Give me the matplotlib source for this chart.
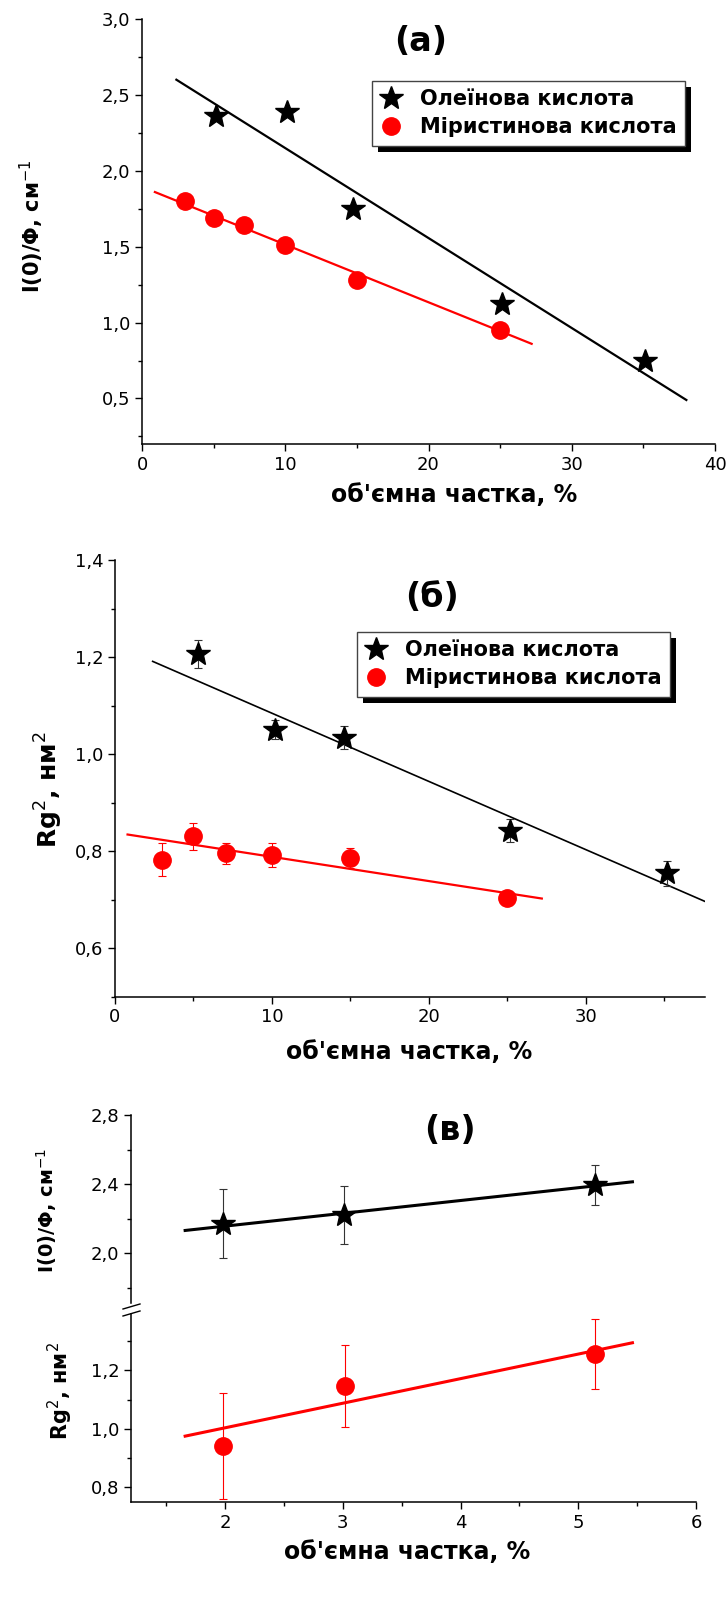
import matplotlib
matplotlib.use("Agg")
import matplotlib.pyplot as plt
from matplotlib.lines import Line2D
from matplotlib.patches import Rectangle
from matplotlib.ticker import FuncFormatter, MultipleLocator

plt.rcParams["font.family"] = ["DejaVu Sans"]

# %% data
labels = ["Олеїнова кислота", "Міристинова кислота"]

# (a) I(0)/Phi vs volume fraction
a_ole_x = [5.2, 10.1, 14.7, 25.1, 35.1]
a_ole_y = [2.36, 2.385, 1.75, 1.12, 0.75]
a_ole_fit_x = [2.4, 38.0]
a_ole_fit_y = [2.60, 0.49]
a_myr_x = [3.0, 5.0, 7.1, 10.0, 15.0, 25.0]
a_myr_y = [1.80, 1.69, 1.64, 1.51, 1.28, 0.95]
a_myr_fit_x = [0.9, 27.2]
a_myr_fit_y = [1.86, 0.86]

# (б) Rg^2 vs volume fraction
b_ole_x = [5.3, 10.2, 14.6, 25.2, 35.2]
b_ole_y = [1.206, 1.050, 1.034, 0.842, 0.754]
b_ole_err = [0.029, 0.020, 0.023, 0.024, 0.026]
b_ole_fit_x = [2.4, 37.6]
b_ole_fit_y = [1.191, 0.696]
b_myr_x = [3.0, 5.0, 7.1, 10.0, 15.0, 25.0]
b_myr_y = [0.782, 0.830, 0.795, 0.792, 0.785, 0.704]
b_myr_err = [0.034, 0.027, 0.021, 0.024, 0.021, 0.010]
b_myr_fit_x = [0.8, 27.2]
b_myr_fit_y = [0.834, 0.702]

# (в) low concentrations, broken y axis
c_ole_x = [1.98, 3.01, 5.14]
c_ole_y = [2.172, 2.222, 2.394]
c_ole_err = [0.200, 0.165, 0.115]
c_ole_fit_x = [1.66, 5.46]
c_ole_fit_y = [2.133, 2.414]
c_myr_x = [1.98, 3.02, 5.14]
c_myr_y = [0.941, 1.145, 1.255]
c_myr_err = [0.180, 0.140, 0.120]
c_myr_fit_x = [1.66, 5.46]
c_myr_fit_y = [0.975, 1.294]

W, H = 727, 1607
fig = plt.figure(figsize=(W / 100, H / 100), dpi=100)


def px_axes(left, top, right, bottom):
    return fig.add_axes([left / W, 1 - bottom / H, (right - left) / W, (bottom - top) / H])


comma = FuncFormatter(lambda v, p: f"{v:.1f}".replace(".", ","))
intfmt = FuncFormatter(lambda v, p: f"{v:g}")


def style(ax, bottom=True):
    for s in ("top", "right"):
        ax.spines[s].set_visible(False)
    ax.spines["left"].set_linewidth(1.1)
    ax.spines["bottom"].set_linewidth(1.1)
    if not bottom:
        ax.spines["bottom"].set_visible(False)
        ax.tick_params(axis="x", which="both", bottom=False, labelbottom=False)
    ax.tick_params(which="major", direction="out", length=5, width=1, labelsize=13)
    ax.tick_params(which="minor", direction="out", length=3, width=1)
    ax.yaxis.set_major_formatter(comma)
    ax.xaxis.set_major_formatter(intfmt)


def shadow_legend(ax, bbox, d=6):
    leg = ax.legend(loc="upper left", bbox_to_anchor=bbox, borderaxespad=0,
                    prop={"weight": "bold", "size": 15}, frameon=True, fancybox=False,
                    framealpha=1, edgecolor="#444444", handlelength=1.0,
                    handletextpad=0.9, borderpad=0.4, labelspacing=0.4)
    leg.get_frame().set_linewidth(1)
    fig.canvas.draw()
    bb = leg.get_window_extent()
    inv = ax.transAxes.inverted()
    (x0, y0), (x1, y1) = inv.transform([[bb.x0 + d, bb.y0 - d], [bb.x1 + d, bb.y1 - d]])
    ax.add_patch(Rectangle((x0, y0), x1 - x0, y1 - y0, transform=ax.transAxes,
                           facecolor="black", edgecolor="none", zorder=4.9, clip_on=False))


# %% (a)
ax1 = px_axes(142, 19, 715, 444)
ax1.plot(a_ole_fit_x, a_ole_fit_y, color="black", lw=1.6)
ax1.plot(a_myr_fit_x, a_myr_fit_y, color="red", lw=1.6)
ax1.plot(a_ole_x, a_ole_y, "*", color="black", ms=18, label=labels[0], zorder=3)
ax1.plot(a_myr_x, a_myr_y, "o", color="red", ms=12.5, label=labels[1], zorder=3)
ax1.set_xlim(0, 40)
ax1.set_ylim(0.2, 3.0)
ax1.xaxis.set_major_locator(MultipleLocator(10))
ax1.xaxis.set_minor_locator(MultipleLocator(5))
ax1.yaxis.set_major_locator(MultipleLocator(0.5))
ax1.yaxis.set_minor_locator(MultipleLocator(0.25))
style(ax1)
ax1.text(0.487, 0.946, "(a)", transform=ax1.transAxes, ha="center", va="center",
         fontsize=24, fontweight="bold")
shadow_legend(ax1, (0.401, 0.855))

# %% (б)
ax2 = px_axes(115, 560, 705, 996.5)
ax2.plot(b_ole_fit_x, b_ole_fit_y, color="black", lw=1.2)
ax2.plot(b_myr_fit_x, b_myr_fit_y, color="red", lw=1.6)
ax2.errorbar(b_ole_x, b_ole_y, yerr=b_ole_err, fmt="none", ecolor="#333333",
             elinewidth=0.8, capsize=3, capthick=0.8)
ax2.errorbar(b_myr_x, b_myr_y, yerr=b_myr_err, fmt="none", ecolor="red",
             elinewidth=0.8, capsize=3, capthick=0.8)
ax2.plot(b_ole_x, b_ole_y, "*", color="black", ms=18, label=labels[0], zorder=3)
ax2.plot(b_myr_x, b_myr_y, "o", color="red", ms=12.5, label=labels[1], zorder=3)
ax2.set_xlim(0, 37.6)
ax2.set_ylim(0.5, 1.4)
ax2.xaxis.set_major_locator(MultipleLocator(10))
ax2.xaxis.set_minor_locator(MultipleLocator(5))
ax2.yaxis.set_major_locator(MultipleLocator(0.2))
ax2.yaxis.set_minor_locator(MultipleLocator(0.1))
style(ax2)
ax2.text(0.537, 0.913, "(б)", transform=ax2.transAxes, ha="center", va="center",
         fontsize=24, fontweight="bold")
shadow_legend(ax2, (0.411, 0.836))

# %% (в) upper part
ax3 = px_axes(131, 1115, 696, 1303)
ax3.plot(c_ole_fit_x, c_ole_fit_y, color="black", lw=2.2)
ax3.errorbar(c_ole_x, c_ole_y, yerr=c_ole_err, fmt="none", ecolor="#333333",
             elinewidth=0.8, capsize=3, capthick=0.8)
ax3.plot(c_ole_x, c_ole_y, "*", color="black", ms=18, zorder=3)
ax3.set_xlim(1.2, 6)
ax3.set_ylim(1.714, 2.8)
ax3.yaxis.set_major_locator(MultipleLocator(0.4))
ax3.yaxis.set_minor_locator(MultipleLocator(0.2))
style(ax3, bottom=False)
ax3.text(0.565, 0.915, "(в)", transform=ax3.transAxes, ha="center", va="center",
         fontsize=24, fontweight="bold")

# (в) lower part
ax4 = px_axes(131, 1313.5, 696, 1502)
ax4.plot(c_myr_fit_x, c_myr_fit_y, color="red", lw=2.2)
ax4.errorbar(c_myr_x, c_myr_y, yerr=c_myr_err, fmt="none", ecolor="red",
             elinewidth=0.8, capsize=3, capthick=0.8)
ax4.plot(c_myr_x, c_myr_y, "o", color="red", ms=12.5, zorder=3)
ax4.set_xlim(1.2, 6)
ax4.set_ylim(0.75, 1.394)
ax4.xaxis.set_major_locator(MultipleLocator(1))
ax4.xaxis.set_minor_locator(MultipleLocator(0.5))
ax4.yaxis.set_major_locator(MultipleLocator(0.2))
ax4.yaxis.set_minor_locator(MultipleLocator(0.1))
style(ax4)

# break marks on the left spine
for yp in (1306.5, 1313.5):
    fig.add_artist(Line2D([123 / W, 140 / W], [1 - (yp + 2.5) / H, 1 - (yp - 2.5) / H],
                          color="black", lw=1, transform=fig.transFigure))

# %% axis labels
xl = "об'ємна частка, %"
fig.text(454 / W, 1 - 495 / H, xl, ha="center", va="center", fontsize=17, fontweight="bold")
fig.text(409 / W, 1 - 1052 / H, xl, ha="center", va="center", fontsize=17, fontweight="bold")
fig.text(407 / W, 1 - 1552 / H, xl, ha="center", va="center", fontsize=17, fontweight="bold")

fig.text(32 / W, 1 - 226 / H, "I(0)/Φ, см$^{-1}$", rotation=90, ha="center", va="center",
         fontsize=15, fontweight="bold")
fig.text(49 / W, 1 - 790 / H, "Rg$^{2}$, нм$^{2}$", rotation=90, ha="center", va="center",
         fontsize=18, fontweight="bold")
fig.text(47 / W, 1 - 1210 / H, "I(0)/Φ, см$^{-1}$", rotation=90, ha="center", va="center",
         fontsize=14, fontweight="bold")
fig.text(60 / W, 1 - 1391 / H, "Rg$^{2}$, нм$^{2}$", rotation=90, ha="center", va="center",
         fontsize=15, fontweight="bold")

fig.savefig("out.png", dpi=100)
